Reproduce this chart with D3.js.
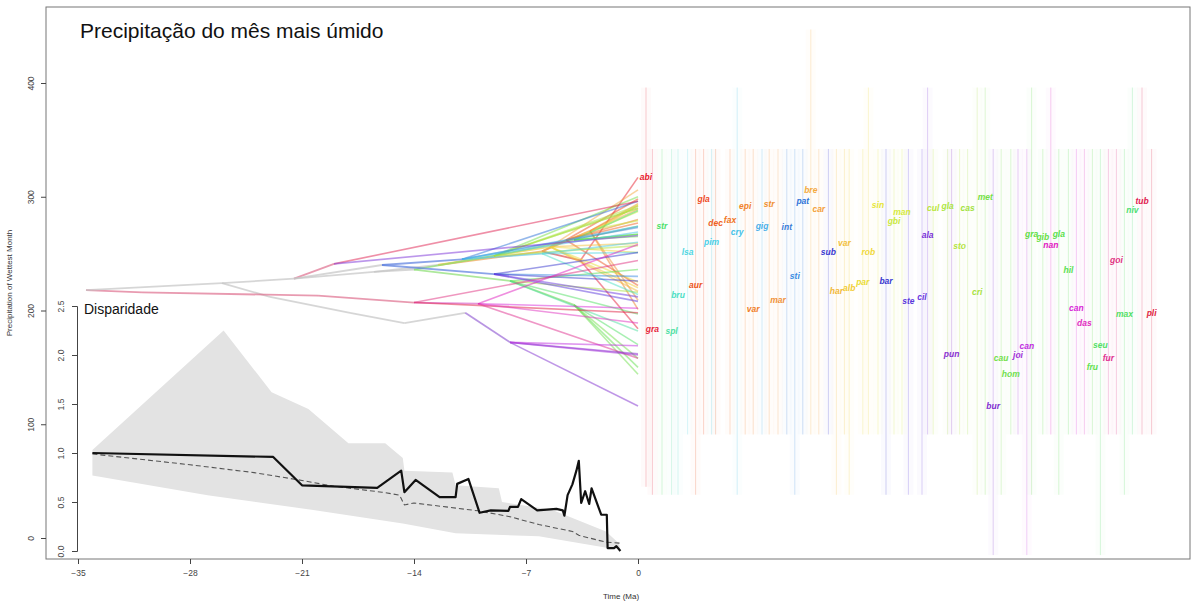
<!DOCTYPE html>
<html><head><meta charset="utf-8">
<script src="https://cdn.jsdelivr.net/npm/d3@7"></script>
<style>body{margin:0;background:#fff}svg{display:block}text{font-family:"Liberation Sans",Arial,Helvetica,sans-serif}</style>
</head><body>
<svg id="c" width="1192" height="602"></svg>
<script>
// ---------------- DATA ----------------
const xTicks = [-35, -28, -21, -14, -7, 0];
const yTicks = [0, 100, 200, 300, 400];
const dTicks = [0.0, 0.5, 1.0, 1.5, 2.0, 2.5];

// internal nodes of the phylogeny (age in Ma, trait value)
const nodeId     = ["n0","n1","n2","n3","n4","n5","n6","n7","n8","n9","n10","w0","w1","w2","w3","w4","w5","w6","g0","g1","g2","g3","g4","b0","b1","b2","b3","m0","m1","m2"];
const nodeParent = [null,"n0","n0","n2","n3","n3","n2","n6","n7","n8","n9","n5","w0","w1","w1","w1","w0","w5","n5","g0","g1","g0","g3","n3","b0","b1","b0","n1","m0","m1"];
const nodeAge    = [-34.5,-31,-26,-21.5,-19,-16.5,-23,-18,-14.6,-10.8,-8,-12.5,-6,-3.6,-4.5,-3,-5.5,-2.5,-14,-9,-4,-8,-4,-16,-11,-6,-9,-20,-14,-10];
const nodeVal    = [218,216,224,228,241,234,212,198,189,198,172,240,252,244,262,270,256,272,236,248,262,226,205,240,245,250,232,213,207,206];
const nodeGroup  = ["grey","pink","grey","grey","pink","grey","grey","grey","grey","grey","purple","grey","orange","red","orange","orange","yellow","yellow","grey","green","green","green","green","grey","blue","cyan","blue","pink","pink","magenta"];

// species (tips)
const spName   = ["abi","gra","gla","dec","fax","aur","epi","str","car","mar","var","bre","har","alb","par","var","rob","sin","man","gbi","cul","gla","cas","met","sto","gra","gib","gla","niv","str","cri","hil","max","spl","cau","seu","hom","fru","pat","int","gig","cry","pim","lsa","bru","sub","sti","bar","ste","cil","tub","ala","pli","goi","can","das","nan","fur","bur","pun","joi","can"];
const spParent = ["w2","w2","w3","w3","w3","w3","w4","w4","w4","w4","w4","w5","w5","w5","w5","w5","w5","w6","w6","w6","g1","g1","g1","g1","g1","g2","g2","g2","g2","g2","g3","g3","g3","g3","g4","g4","g4","g4","b1","b1","b1","b1","b2","b2","b2","b3","b3","b3","b3","b3","n4","n4","m1","m1","m2","m2","m2","m2","n10","n10","n10","n10"];
const spMean   = [317,184,298,277,280,222,292,294,289,209,201,306,217,220,225,259,251,293,287,279,290,292,290,300,257,267,265,267,288,274,216,236,197,182,158,170,144,150,296,273,274,269,260,251,214,251,230,226,208,212,296,266,198,244,202,189,258,158,116,162,161,169];
const spLabelX = [0.5,0.9,4.1,4.85,5.75,3.6,6.7,8.2,11.3,8.75,7.2,10.8,12.4,13.2,14.05,12.9,14.4,15.0,16.5,16.0,18.45,19.35,20.6,21.7,20.1,24.6,25.3,26.3,30.9,1.5,21.2,26.9,30.4,2.1,22.7,28.9,23.3,28.4,10.3,9.3,7.75,6.2,4.6,3.1,2.5,11.9,9.8,15.5,16.9,17.75,31.5,18.1,32.1,29.9,27.4,27.9,25.8,29.4,22.2,19.6,23.75,24.3];
const spMin    = [45,38,91,91,91,38,91,91,91,91,91,91,38,38,91,91,91,91,91,91,91,91,91,38,91,38,91,38,91,38,38,91,38,38,38,-15,91,91,91,91,91,38,91,91,38,91,38,38,38,38,91,91,91,91,91,91,91,91,-15,91,91,-15];
const spMax    = [396,342,342,342,342,342,342,342,342,342,342,447,342,342,342,342,396,342,342,342,342,342,342,396,342,396,342,342,396,342,396,342,342,342,342,342,342,342,342,342,342,396,342,342,342,342,342,342,342,342,396,396,342,342,342,342,396,342,342,342,342,342];
const spColour = ["#e8202e","#e61e3a","#ee4a1e","#f0601e","#f07424","#ec5520","#f0822a","#f09030","#f4a23c","#f0923a","#f07e28","#f4aa3e","#f2b83a","#f2cc38","#eadc36","#f2c03c","#f0d83a","#e6e63c","#d6ea3e","#cae83e","#bae63e","#ace640","#a2e242","#74e046","#b4e440","#5ee044","#66e046","#58e04a","#4ee072","#4ce068","#a8e242","#5ae052","#52e064","#4ee0a2","#74e04c","#52e066","#70e04e","#62e050","#2c72d8","#3a7cd8","#48aee8","#44c2e8","#4acfe8","#50d6e2","#4cdfc4","#3a3ad0","#3a8ce2","#3838d0","#5a38dc","#6a38e0","#e02050","#7a30d8","#e01e40","#e03080","#d82ad8","#e030c0","#e020c0","#e03090","#8030d0","#8a30d0","#a030d8","#c030e0"];

// disparity through time
const dttTime = [-34.1,-22.8,-21.0,-16.3,-14.8,-14.6,-13.9,-12.4,-11.4,-11.3,-10.6,-9.9,-9.2,-8.1,-8.0,-7.5,-7.3,-6.3,-5.1,-4.7,-4.6,-4.4,-4.1,-3.85,-3.7,-3.55,-3.3,-3.05,-2.9,-2.3,-1.95,-1.9,-1.5,-1.35,-1.1];
const dttVal  = [1.0,0.96,0.67,0.645,0.82,0.60,0.725,0.55,0.55,0.685,0.735,0.39,0.415,0.41,0.45,0.45,0.53,0.415,0.43,0.415,0.36,0.57,0.68,0.82,0.92,0.49,0.61,0.48,0.64,0.37,0.37,0.03,0.03,0.05,0.0];
const nullTime = [-34.1,-28,-24,-21,-19,-16,-14.9,-14.6,-14,-12,-10,-8,-6.2,-4.1,-3.7,-2.0,-1.1];
const nullVal  = [0.99,0.88,0.80,0.72,0.66,0.60,0.57,0.47,0.49,0.45,0.41,0.35,0.27,0.20,0.16,0.09,0.08];
const ciUpTime = [-34.1,-25.9,-22.9,-20.6,-18.1,-15.8,-14.7,-14.6,-11.6,-11.4,-8.7,-8.5,-5.4,-4.6,-2.0,-1.2];
const ciUpVal  = [1.03,2.25,1.62,1.45,1.1,1.1,0.95,0.82,0.8,0.67,0.64,0.50,0.42,0.37,0.2,0.08];
const ciLoTime = [-34.1,-26.9,-20.4,-14.7,-11.4,-6.2,-1.5,-1.1];
const ciLoVal  = [0.77,0.57,0.42,0.28,0.18,0.15,0.02,0.02];

// ---------------- STYLE ----------------
const groupColour = {grey:"#c4c4c4", pink:"#de6f8e", orange:"#f0a050", red:"#e05050", yellow:"#e8d050",
  green:"#8ade70", blue:"#5a7ede", cyan:"#60c8e6", purple:"#9a68d6", magenta:"#dc68cc"};

// ---------------- DRAW ----------------
const svg = d3.select("#c");
const x = d3.scaleLinear().domain([-35, 0]).range([78, 638]);
const yP = d3.scaleLinear().domain([0, 400]).range([538, 83]);
const yD = d3.scaleLinear().domain([0, 2.5]).range([551, 306]);

const nodes = {};
nodeId.forEach((id, i) => nodes[id] = {id, parent: nodeParent[i], age: nodeAge[i], val: nodeVal[i], group: nodeGroup[i]});

// species range bars (right side)
const gR = svg.append("g");
spName.forEach((n, i) => {
  const cx = x(spLabelX[i]);
  gR.append("rect").attr("x", cx - 5).attr("width", 10)
    .attr("y", yP(spMax[i])).attr("height", yP(spMin[i]) - yP(spMax[i]))
    .attr("fill", spColour[i]).attr("opacity", 0.025);
  gR.append("line").attr("x1", cx).attr("x2", cx)
    .attr("y1", yP(spMax[i])).attr("y2", yP(spMin[i]))
    .attr("stroke", spColour[i]).attr("stroke-width", 1).attr("opacity", 0.22);
});

// tree edges
const gT = svg.append("g").attr("fill", "none");
nodeId.forEach(id => {
  const nd = nodes[id];
  if (!nd.parent) return;
  const p = nodes[nd.parent];
  gT.append("line").attr("x1", x(p.age)).attr("y1", yP(p.val)).attr("x2", x(nd.age)).attr("y2", yP(nd.val))
    .attr("stroke", groupColour[nd.group]).attr("stroke-width", 1.8).attr("opacity", 0.7);
});
spName.forEach((n, i) => {
  const p = nodes[spParent[i]];
  gT.append("line").attr("x1", x(p.age)).attr("y1", yP(p.val)).attr("x2", x(0)).attr("y2", yP(spMean[i]))
    .attr("stroke", spColour[i]).attr("stroke-width", 1.6).attr("opacity", 0.5);
});

// species labels
const gL = svg.append("g");
spName.forEach((n, i) => {
  gL.append("text").attr("x", x(spLabelX[i])).attr("y", yP(spMean[i]) + 3)
    .attr("text-anchor", "middle").attr("font-size", 8.5).attr("font-weight", "bold")
    .attr("font-style", "italic").attr("fill", spColour[i]).text(n);
});

// disparity inset
const gD = svg.append("g");
const ci = ciUpTime.map((t, i) => [x(t), yD(ciUpVal[i])])
  .concat(ciLoTime.map((t, i) => [x(t), yD(ciLoVal[i])]).reverse());
gD.append("path").attr("d", d3.line()(ci) + "Z").attr("fill", "#e3e3e3");
gD.append("path").attr("d", d3.line()(nullTime.map((t, i) => [x(t), yD(nullVal[i])])))
  .attr("fill", "none").attr("stroke", "#555").attr("stroke-width", 1.1).attr("stroke-dasharray", "5,3");
gD.append("path").attr("d", d3.line()(dttTime.map((t, i) => [x(t), yD(dttVal[i])])))
  .attr("fill", "none").attr("stroke", "#111").attr("stroke-width", 2.2).attr("stroke-linejoin", "round");
const aD = gD.append("g").attr("transform", "translate(77,0)")
  .call(d3.axisLeft(yD).tickValues(dTicks).tickSize(5).tickFormat(d3.format(".1f")));
aD.select(".domain").attr("stroke", "#444");
aD.selectAll(".tick line").attr("stroke", "#444");
aD.selectAll(".tick text").attr("x", null).attr("dy", null).attr("text-anchor", "middle")
  .attr("transform", "translate(-13.5,0) rotate(-90)").attr("font-size", 8.5).attr("fill", "#444");
gD.append("text").attr("x", 84).attr("y", 314).attr("font-size", 14).attr("fill", "#111").text("Disparidade");

// main frame and axes
svg.append("rect").attr("x", 46).attr("y", 7).attr("width", 1144).attr("height", 552)
  .attr("fill", "none").attr("stroke", "#777").attr("stroke-width", 1);
const ax = svg.append("g").attr("transform", "translate(0,559)")
  .call(d3.axisBottom(x).tickValues(xTicks).tickSize(5).tickPadding(6).tickFormat(d3.format("d")));
ax.select(".domain").remove();
ax.selectAll(".tick line").attr("stroke", "#444");
ax.selectAll(".tick text").attr("font-size", 8.5).attr("fill", "#444");
const ay = svg.append("g").attr("transform", "translate(46,0)")
  .call(d3.axisLeft(yP).tickValues(yTicks).tickSize(5));
ay.select(".domain").remove();
ay.selectAll(".tick line").attr("stroke", "#444");
ay.selectAll(".tick text").attr("x", null).attr("dy", null).attr("text-anchor", "middle")
  .attr("transform", "translate(-12.5,0) rotate(-90)").attr("font-size", 8.5).attr("fill", "#444");

svg.append("text").attr("transform", "translate(12,283) rotate(-90)").attr("text-anchor", "middle")
  .attr("font-size", 8).attr("fill", "#333").text("Precipitation of Wettest Month");
svg.append("text").attr("x", 621).attr("y", 599).attr("text-anchor", "middle")
  .attr("font-size", 8).attr("fill", "#333").text("Time (Ma)");
svg.append("text").attr("x", 80).attr("y", 38).attr("font-size", 21).attr("fill", "#111")
  .text("Precipitação do mês mais úmido");
</script>
</body></html>
